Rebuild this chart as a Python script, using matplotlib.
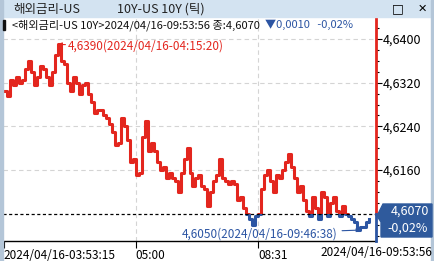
import matplotlib
matplotlib.use('Agg')
import matplotlib.pyplot as plt
from matplotlib.patches import Rectangle, Polygon
from matplotlib.ticker import MultipleLocator, FuncFormatter, FixedLocator

plt.rcParams['font.family'] = ['Liberation Sans Narrow', 'Noto Sans CJK KR', 'DejaVu Sans']

# tick prices (one value per tick)
prices = [4.6305, 4.6295, 4.6325, 4.6315, 4.6330, 4.6320, 4.6325, 4.6345, 4.6360, 4.6340,
          4.6315, 4.6330, 4.6350, 4.6345, 4.6330, 4.6315, 4.6340, 4.6370, 4.6390, 4.6360,
          4.6355, 4.6320, 4.6305, 4.6330, 4.6320, 4.6300, 4.6315, 4.6320, 4.6300, 4.6285,
          4.6265, 4.6270, 4.6270, 4.6260, 4.6255, 4.6245, 4.6230, 4.6205, 4.6210, 4.6255,
          4.6240, 4.6215, 4.6175, 4.6180, 4.6150, 4.6155, 4.6220, 4.6250, 4.6195, 4.6210,
          4.6195, 4.6175, 4.6160, 4.6165, 4.6145, 4.6155, 4.6145, 4.6140, 4.6120, 4.6155,
          4.6180, 4.6200, 4.6155, 4.6130, 4.6145, 4.6150, 4.6130, 4.6125, 4.6095, 4.6120,
          4.6140, 4.6150, 4.6180, 4.6145, 4.6140, 4.6135, 4.6140, 4.6135, 4.6105, 4.6110,
          4.6090, 4.6080, 4.6070, 4.6060, 4.6075, 4.6080, 4.6125, 4.6150, 4.6160, 4.6140,
          4.6120, 4.6150, 4.6145, 4.6160, 4.6175, 4.6190, 4.6165, 4.6145, 4.6120, 4.6130,
          4.6105, 4.6085, 4.6075, 4.6110, 4.6090, 4.6070, 4.6120, 4.6110, 4.6075, 4.6100,
          4.6110, 4.6085, 4.6075, 4.6095, 4.6080, 4.6075, 4.6070, 4.6065, 4.6050, 4.6055,
          4.6055, 4.6065, 4.6070]
prev_close = 4.6080
last_price = 4.6070
change = -0.0010
change_pct = -0.02

time_ticks = [0, 44, 85]
time_labels = ['2024/04/16-03:53:15', '05:00', '08:31']
end_label = '2024/04/16-09:53:56'
hi_time = '2024/04/16-04:15:20'
lo_time = '2024/04/16-09:46:38'

red = '#e3261e'
blue = '#2c55a3'

def fmt(v):
    return f'{v:.4f}'.replace('.', ',')

W, H = 435, 261
fig = plt.figure(figsize=(W / 100, H / 100), dpi=100)

def px(x, y):
    return x / W, 1 - y / H

# window chrome
fig.patches.append(Rectangle((0, 1 - 17 / H), 1, 17 / H, transform=fig.transFigure,
                             color='#d3e3f1', zorder=0))
fig.patches.append(Rectangle((0, 0), 3 / W, 1, transform=fig.transFigure, color='#b4c6d8', zorder=0))
fig.patches.append(Rectangle((1 - 4 / W, 0), 4 / W, 1, transform=fig.transFigure, color='#b4c6d8', zorder=0))
fig.text(*px(13, 9), '해외금리-US', fontsize=9, va='center', ha='left', color='#222222')
fig.text(*px(117, 9), '10Y-US 10Y (틱)', fontsize=9, va='center', ha='left', color='#222222')
fig.text(*px(398, 9), '□', fontsize=9, va='center', ha='center', family='DejaVu Sans')
fig.text(*px(422, 9), '✕', fontsize=8, va='center', ha='center', family='DejaVu Sans')

ax = fig.add_axes([3 / W, 20 / H, 373 / W, 223 / H])
ymin, ymax = 4.6030, 4.64385
n = len(prices)
xs = list(range(n))
ax.set_xlim(-0.3, 124.3)
ax.set_ylim(ymin, ymax)

# grid
for v in [4.6160, 4.6240, 4.6320, 4.6400]:
    ax.axhline(v, color='#d4d4d4', lw=0.8, ls=(0, (4, 3)), zorder=1)
for t in time_ticks[1:]:
    ax.axvline(t, color='#d4d4d4', lw=0.8, ls=(0, (4, 3)), zorder=1)

# price line, red above previous close, blue below
up = ax.plot(xs, prices, drawstyle='steps-post', color=red, lw=2.2, zorder=3)[0]
dn = ax.plot(xs, prices, drawstyle='steps-post', color=blue, lw=2.2, zorder=3)[0]
clip_up = Rectangle((-10, prev_close), 200, 1, transform=ax.transData)
clip_dn = Rectangle((-10, prev_close - 1), 200, 1, transform=ax.transData)
up.set_clip_path(clip_up)
dn.set_clip_path(clip_dn)

ax.axhline(prev_close, color='black', lw=0.9, ls=(0, (2.5, 2)), zorder=4)

# high / low marks
hi_i = prices.index(max(prices))
lo_i = prices.index(min(prices))
ax.annotate(f'{fmt(prices[hi_i])}({hi_time})', xy=(hi_i, prices[hi_i]), xytext=(7.5, -1),
            textcoords='offset points', ha='left', va='center', fontsize=8.5, color=red,
            arrowprops=dict(arrowstyle='-|>', color=red, lw=0.8, shrinkA=0, shrinkB=0,
                            mutation_scale=6), zorder=5)
ax.annotate(f'{fmt(prices[lo_i])}({lo_time})', xy=(lo_i + 1, prices[lo_i]), xytext=(-16, -2.5),
            textcoords='offset points', ha='right', va='center', fontsize=8.5, color=blue,
            arrowprops=dict(arrowstyle='-|>', color=blue, lw=0.8, shrinkA=1, shrinkB=0,
                            mutation_scale=5), zorder=5)

# info line
t1 = ax.text(9 / 373, 1 - 7 / 223, f'<해외금리-US 10Y>2024/04/16-09:53:56 종:{fmt(last_price)}',
             transform=ax.transAxes, fontsize=8, va='center', ha='left', color='#111111',
             clip_on=True, zorder=6)
ax.annotate(f'  ▼{fmt(abs(change))}   -{abs(change_pct):.2f}%'.replace('.', ','), xy=(1, 0.5),
            xycoords=t1, va='center', ha='left', fontsize=8, color=blue, clip_on=True,
            annotation_clip=False, zorder=6)
fig.patches.append(Rectangle((3 / W, 1 - 30 / H), 2 / W, 10 / H, transform=fig.transFigure,
                             color='#111111', zorder=7))

# axes styling
for s in ['top', 'left', 'right']:
    ax.spines[s].set_visible(False)
ax.spines['bottom'].set_linewidth(1)
ax.set_xticks(time_ticks)
ax.set_xticklabels(time_labels, fontsize=8.5)
for lab in ax.get_xticklabels():
    lab.set_ha('left')
ax.tick_params(axis='x', direction='out', length=5, pad=1, width=0.8)
fig.text(*px(432, 252), end_label, fontsize=8.5, ha='right', va='center')

ax.yaxis.tick_right()
ax.yaxis.set_major_locator(FixedLocator([4.6160, 4.6240, 4.6320, 4.6400]))
ax.yaxis.set_minor_locator(MultipleLocator(0.002))
ax.yaxis.set_major_formatter(FuncFormatter(lambda v, _: fmt(v)))
ax.tick_params(axis='y', which='major', direction='out', length=4, pad=1, width=0.8, labelsize=9)
ax.tick_params(axis='y', which='minor', direction='out', length=2, width=0.8)

ycut = (prev_close - ymin) / (ymax - ymin)
ax.plot([1, 1], [ycut, 1], transform=ax.transAxes, color=red, lw=2, clip_on=False, zorder=6)
ax.plot([1, 1], [0, ycut], transform=ax.transAxes, color=blue, lw=2, clip_on=False, zorder=6)

# last price tag
tag = Polygon([px(377, 216), px(383, 204), px(432, 204), px(432, 237), px(381, 237), px(381, 222)],
              closed=True, transform=fig.transFigure, color='#2f5a9c', zorder=8)
fig.patches.append(tag)
fig.text(*px(410, 211), fmt(last_price), fontsize=9, ha='center', va='center', color='white', zorder=9)
fig.text(*px(408, 228), f'-{abs(change_pct):.2f}%'.replace('.', ','), fontsize=9, ha='center',
         va='center', color='white', zorder=9)

fig.savefig('out.png', dpi=100)
